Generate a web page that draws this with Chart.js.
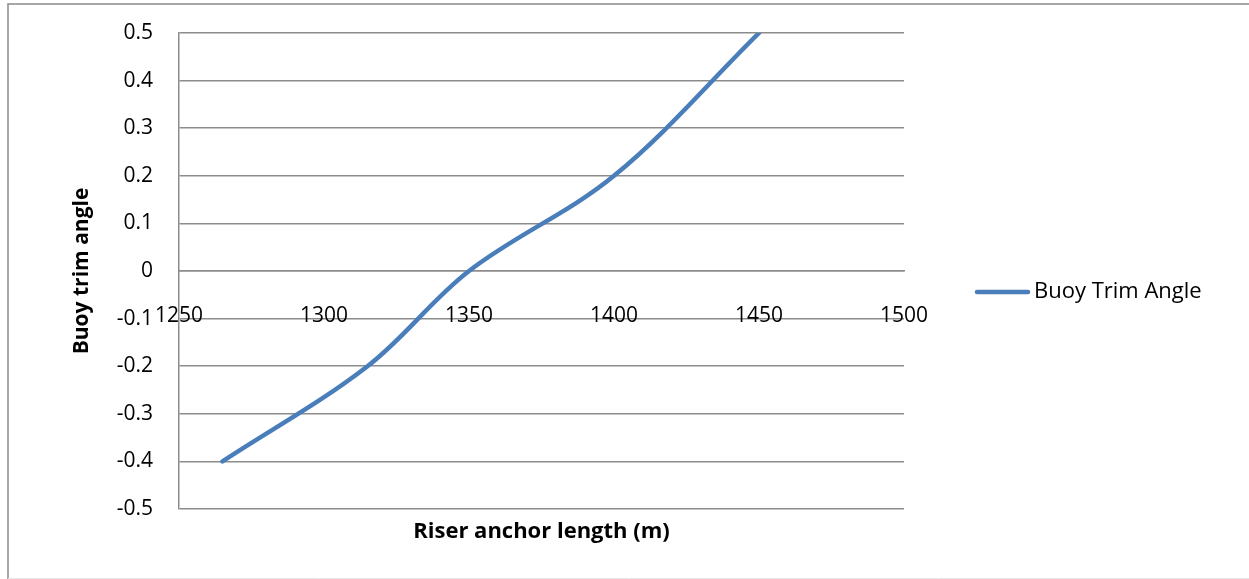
<!DOCTYPE html>
<html>
<head>
<meta charset="utf-8">
<script src="https://cdn.jsdelivr.net/npm/chart.js@4.4.1/dist/chart.umd.min.js"></script>
<style>
  html, body { margin: 0; padding: 0; background: #ffffff; }
  #wrap { position: relative; width: 1249px; height: 579px; }
  canvas { display: block; }
</style>
</head>
<body>
<div id="wrap"><canvas id="chart" width="1249" height="579"></canvas></div>
<script>
// Riser anchor length (m) against buoy trim angle
const anchorLength = [1265, 1315, 1350, 1400, 1450];
const trimAngle = [-0.4, -0.2, 0, 0.2, 0.5];
const seriesName = 'Buoy Trim Angle';
const xTitleText = 'Riser anchor length (m)';
const yTitleText = 'Buoy trim angle';

const FONT = '"Open Sans", "Liberation Sans", sans-serif';
const GRID = '#8c8c8c';
const LINE = '#4a7ebb';

// frame around the whole chart and the single legend entry
const decor = {
  id: 'decor',
  beforeDraw(chart) {
    const c = chart.ctx;
    c.save();
    c.strokeStyle = '#8a8a8a';
    c.lineWidth = 1.5;
    c.beginPath();
    c.moveTo(8, 579);
    c.lineTo(8, 4);
    c.lineTo(1249, 4);
    c.stroke();
    c.strokeStyle = '#e6e6e6';
    c.lineWidth = 1;
    c.beginPath();
    c.moveTo(8, 578.5);
    c.lineTo(1249, 578.5);
    c.stroke();
    c.restore();
  },
  afterDraw(chart) {
    const c = chart.ctx;
    const ds = chart.data.datasets[0];
    const y = 292;
    c.save();
    c.strokeStyle = ds.borderColor;
    c.lineWidth = ds.borderWidth;
    c.lineCap = 'round';
    c.beginPath();
    c.moveTo(977, y);
    c.lineTo(1028, y);
    c.stroke();
    c.fillStyle = '#000000';
    c.font = '22px ' + FONT;
    c.textBaseline = 'middle';
    c.textAlign = 'left';
    c.fillText(ds.label, 1034, y);
    c.restore();
  }
};

new Chart(document.getElementById('chart'), {
  type: 'scatter',
  data: {
    datasets: [{
      label: seriesName,
      data: anchorLength.map((x, i) => ({ x: x, y: trimAngle[i] })),
      showLine: true,
      borderColor: LINE,
      backgroundColor: LINE,
      borderWidth: 4.5,
      borderCapStyle: 'round',
      borderJoinStyle: 'round',
      pointRadius: 0,
      pointHoverRadius: 0,
      tension: 0.35,
      clip: { left: 6, right: 6, top: 0, bottom: 6 }
    }]
  },
  options: {
    responsive: false,
    animation: false,
    events: [],
    layout: { padding: { left: 0, right: 345, top: 33, bottom: 0 } },
    plugins: {
      legend: { display: false },
      tooltip: { enabled: false }
    },
    scales: {
      x: {
        type: 'linear',
        position: { y: 0 },
        min: 1250,
        max: 1500,
        grid: { display: false, drawTicks: false },
        border: { display: true, color: GRID, width: 1.5 },
        ticks: {
          stepSize: 50,
          autoSkip: false,
          maxRotation: 0,
          padding: 32,
          color: '#000000',
          font: { family: FONT, size: 21 },
          callback: v => String(v)
        }
      },
      xTitle: {
        type: 'linear',
        position: 'bottom',
        min: 1250,
        max: 1500,
        grid: { display: false, drawTicks: false },
        border: { display: false },
        ticks: { display: false },
        title: {
          display: true,
          text: xTitleText,
          color: '#000000',
          font: { family: FONT, size: 22, weight: 'bold' },
          padding: { top: 10, bottom: 34 }
        },
        afterFit(scale) { scale.height = 70; }
      },
      y: {
        type: 'linear',
        position: 'left',
        min: -0.5,
        max: 0.5,
        grid: { color: GRID, lineWidth: 1.5, drawTicks: false },
        border: { display: true, color: GRID, width: 1.5 },
        ticks: {
          stepSize: 0.1,
          padding: 26,
          color: '#000000',
          font: { family: FONT, size: 21 },
          callback: v => (Math.abs(v) < 1e-9 ? '0' : String(+v.toFixed(1)))
        },
        title: {
          display: true,
          text: yTitleText,
          color: '#000000',
          font: { family: FONT, size: 21, weight: 'bold' },
          padding: { top: 69, bottom: 0 }
        },
        afterFit(scale) {
          scale.width = 179;
          scale.paddingTop = 0;
          scale.paddingBottom = 0;
        }
      }
    }
  },
  plugins: [decor]
});
</script>
</body>
</html>
